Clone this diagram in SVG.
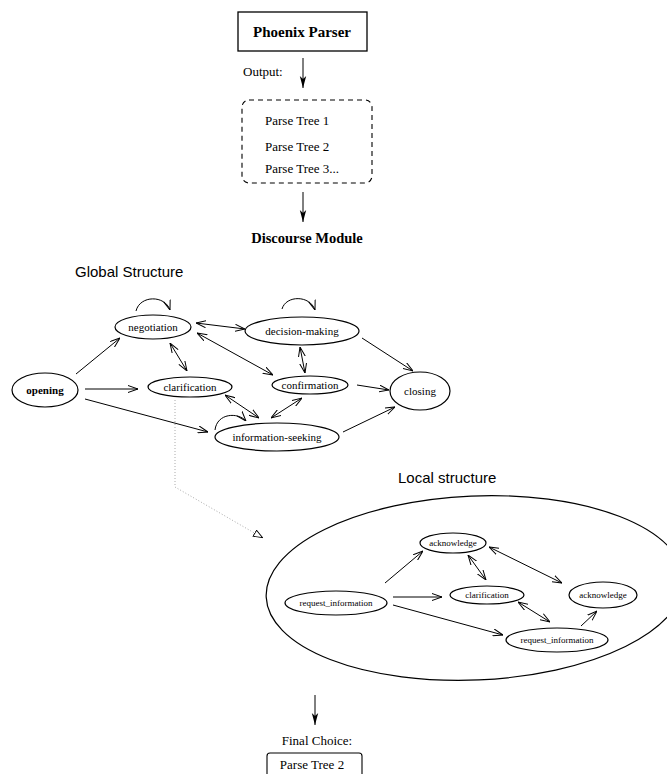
<svg xmlns="http://www.w3.org/2000/svg" width="667" height="774" viewBox="0 0 667 774">
<defs>
<style>
.t{font-family:"Liberation Serif","Times New Roman",serif;fill:#000}
.s{font-family:"Liberation Sans",Arial,sans-serif;fill:#000;font-size:15px}
.n{fill:#fff;stroke:#000;stroke-width:1.2}
.e{fill:none;stroke:#000;stroke-width:1}
</style>
<marker id="a" viewBox="0 0 10 8" refX="10" refY="4" markerWidth="10" markerHeight="8" markerUnits="userSpaceOnUse" orient="auto-start-reverse">
<path d="M0,0.5 L10,4 L0,7.5" fill="none" stroke="#000" stroke-width="1"/>
</marker>
<marker id="f" viewBox="0 0 8 12" refX="4" refY="12" markerWidth="8" markerHeight="12" markerUnits="userSpaceOnUse" orient="0">
<path d="M0.8,0 L4,12 L7.2,0 L4,3 z" fill="#000"/>
</marker>
<marker id="o" viewBox="0 0 10 8" refX="10" refY="4" markerWidth="10" markerHeight="8" markerUnits="userSpaceOnUse" orient="auto">
<path d="M0.5,0.5 L9.5,4 L0.5,7.5 z" fill="#fff" stroke="#000" stroke-width="0.9"/>
</marker>
</defs>
<rect width="667" height="774" fill="#fff"/>

<g id="phoenix">
<rect x="238" y="12" width="129" height="39" fill="#fff" stroke="#000" stroke-width="1.3"/>
<text class="t" x="302" y="37" font-size="15" font-weight="bold" text-anchor="middle">Phoenix Parser</text>
</g>
<text class="t" x="243" y="76" font-size="13">Output:</text>
<g id="output">
<rect x="242" y="100" width="130" height="83" rx="7" fill="#fff" stroke="#000" stroke-width="1.1" stroke-dasharray="5,4"/>
<text class="t" x="265" y="125" font-size="13">Parse Tree 1</text>
<text class="t" x="265" y="151" font-size="13">Parse Tree 2</text>
<text class="t" x="265" y="173" font-size="13">Parse Tree 3...</text>
</g>
<g id="discourse">
<text class="t" x="307" y="243" font-size="14.5" font-weight="bold" text-anchor="middle">Discourse Module</text>
</g>

<text class="s" x="75" y="277">Global Structure</text>
<text class="s" x="398" y="483">Local structure</text>

<g id="connectors">
<line x1="303" y1="58" x2="303" y2="88" class="e" stroke-width="1.2" marker-end="url(#f)"/>
<line x1="303" y1="192" x2="303" y2="222" class="e" stroke-width="1.2" marker-end="url(#f)"/>
<line x1="315" y1="695" x2="315" y2="725" class="e" stroke-width="1.2" marker-end="url(#f)"/>

<path d="M136,311 C140,295 165,295 170,310" class="e" marker-end="url(#a)"/>
<path d="M282,309 C286,295 310,295 315,310" class="e" marker-end="url(#a)"/>
<path d="M215,430 C217,413 238,412 246,421" class="e" marker-end="url(#a)"/>

<line x1="76" y1="374" x2="120" y2="338" class="e" marker-end="url(#a)"/>
<line x1="85" y1="389" x2="138" y2="389" class="e" marker-end="url(#a)"/>
<line x1="85" y1="399" x2="208" y2="432" class="e" marker-end="url(#a)"/>
<line x1="170" y1="343" x2="187" y2="371" class="e" marker-start="url(#a)" marker-end="url(#a)"/>
<line x1="196" y1="323" x2="245" y2="329" class="e" marker-start="url(#a)" marker-end="url(#a)"/>
<line x1="197" y1="333" x2="273" y2="375" class="e" marker-start="url(#a)" marker-end="url(#a)"/>
<line x1="300" y1="347" x2="305" y2="373" class="e" marker-start="url(#a)" marker-end="url(#a)"/>
<line x1="362" y1="338" x2="413" y2="371" class="e" marker-end="url(#a)"/>
<line x1="357" y1="385" x2="389" y2="390" class="e" marker-end="url(#a)"/>
<line x1="343" y1="432" x2="395" y2="407" class="e" marker-end="url(#a)"/>
<line x1="225" y1="395" x2="259" y2="418" class="e" marker-start="url(#a)" marker-end="url(#a)"/>
<line x1="302" y1="398" x2="271" y2="418" class="e" marker-start="url(#a)" marker-end="url(#a)"/>

<path d="M175,400 L175,487 L263,538" fill="none" stroke="#aaa" stroke-width="1" stroke-dasharray="1,2" marker-end="url(#o)"/>

<line x1="385" y1="583" x2="423" y2="551" class="e" marker-end="url(#a)"/>
<line x1="393" y1="597" x2="442" y2="597" class="e" marker-end="url(#a)"/>
<line x1="393" y1="605" x2="503" y2="635" class="e" marker-end="url(#a)"/>
<line x1="468" y1="555" x2="486" y2="580" class="e" marker-start="url(#a)" marker-end="url(#a)"/>
<line x1="489" y1="547" x2="562" y2="583" class="e" marker-start="url(#a)" marker-end="url(#a)"/>
<line x1="518" y1="602" x2="550" y2="622" class="e" marker-start="url(#a)" marker-end="url(#a)"/>
<line x1="581" y1="626" x2="597" y2="611" class="e" marker-end="url(#a)"/>
</g>

<g id="negotiation"><ellipse class="n" cx="153" cy="327" rx="38" ry="12"/><text class="t" x="153" y="331" font-size="11" text-anchor="middle">negotiation</text></g>
<g id="opening"><ellipse class="n" cx="45" cy="390" rx="33" ry="17"/><text class="t" x="45" y="394" font-size="11" font-weight="bold" text-anchor="middle">opening</text></g>
<g id="clarification"><ellipse class="n" cx="190" cy="387" rx="42" ry="10"/><text class="t" x="190" y="391" font-size="11" text-anchor="middle">clarification</text></g>
<g id="decision-making"><ellipse class="n" cx="302" cy="331" rx="57" ry="14"/><text class="t" x="302" y="335" font-size="11" text-anchor="middle">decision-making</text></g>
<g id="confirmation"><ellipse class="n" cx="310" cy="385" rx="38" ry="9"/><text class="t" x="310" y="389" font-size="11" text-anchor="middle">confirmation</text></g>
<g id="closing"><ellipse class="n" cx="420" cy="391" rx="30" ry="19"/><text class="t" x="420" y="395" font-size="11" text-anchor="middle">closing</text></g>
<g id="information-seeking"><ellipse class="n" cx="277" cy="437" rx="62" ry="14"/><text class="t" x="277" y="441" font-size="11" text-anchor="middle">information-seeking</text></g>

<g id="local-structure">
<ellipse cx="475" cy="588" rx="209" ry="92" transform="rotate(-2.5 475 588)" fill="none" stroke="#000" stroke-width="1.2"/>
</g>
<g id="l-acknowledge1"><ellipse class="n" cx="453" cy="543" rx="33" ry="10"/><text class="t" x="453" y="546" font-size="9" text-anchor="middle">acknowledge</text></g>
<g id="l-request1"><ellipse class="n" cx="336" cy="603" rx="51" ry="12"/><text class="t" x="336" y="606" font-size="9" text-anchor="middle">request_information</text></g>
<g id="l-clarification"><ellipse class="n" cx="487" cy="595" rx="37" ry="9"/><text class="t" x="487" y="598" font-size="9" text-anchor="middle">clarification</text></g>
<g id="l-acknowledge2"><ellipse class="n" cx="603" cy="595" rx="34" ry="13"/><text class="t" x="603" y="598" font-size="9" text-anchor="middle">acknowledge</text></g>
<g id="l-request2"><ellipse class="n" cx="557" cy="640" rx="51" ry="12"/><text class="t" x="557" y="643" font-size="9" text-anchor="middle">request_information</text></g>

<text class="t" x="317" y="745" font-size="13" text-anchor="middle">Final Choice:</text>
<g id="final">
<rect x="267" y="753" width="95" height="30" rx="3" fill="#fff" stroke="#000" stroke-width="1.1"/>
<text class="t" x="312" y="769" font-size="13" text-anchor="middle">Parse Tree 2</text>
</g>
</svg>
